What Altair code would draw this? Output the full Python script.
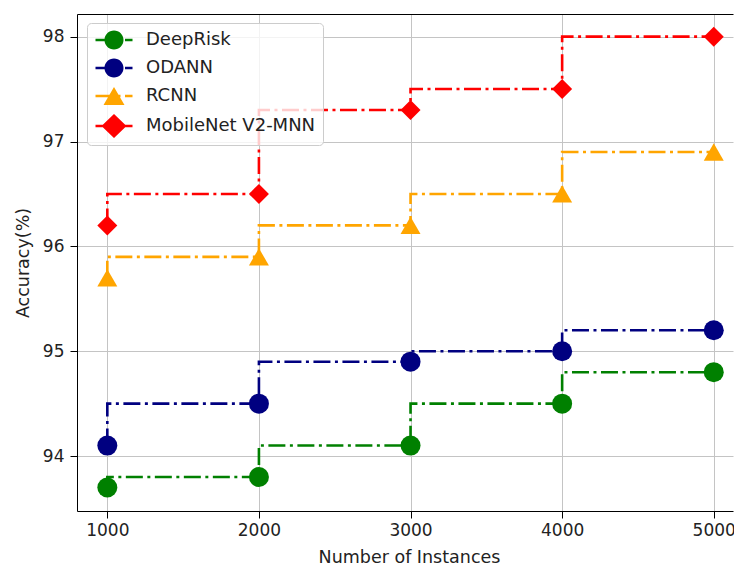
import altair as alt
import pandas as pd

# ---- data ----
instances = [1000, 2000, 3000, 4000, 5000]
series_names = ["DeepRisk", "ODANN", "RCNN", "MobileNet V2-MNN"]
deeprisk = [93.7, 93.8, 94.1, 94.5, 94.8]
odann = [94.1, 94.5, 94.9, 95.0, 95.2]
rcnn = [95.7, 95.9, 96.2, 96.5, 96.9]
mobilenet = [96.2, 96.5, 97.3, 97.5, 98.0]

colors = ["#008000", "#000080", "#FFA500", "#FF0000"]
plot_shapes = ["circle", "circle", "triangle-up", "diamond"]
plot_sizes = [400, 400, 441, 756]

# legend glyphs: marker + dash-dot line segment (unit = sqrt(size)/2)
_line = "M-1.85,-0.13H-0.1V0.13H-1.85Z M0.35,-0.13H0.65V0.13H0.35Z M1.1,-0.13H1.85V0.13H1.1Z "
legend_shapes = [
    _line + "M0.95,0A0.95,0.95 0 1,1 -0.95,0A0.95,0.95 0 1,1 0.95,0Z",
    _line + "M0.95,0A0.95,0.95 0 1,1 -0.95,0A0.95,0.95 0 1,1 0.95,0Z",
    _line + "M0,-0.91L1.05,0.91L-1.05,0.91Z",
    _line + "M0,-1.2L1.25,0L0,1.2L-1.25,0Z",
]

rows = []
for name, vals in zip(series_names, [deeprisk, odann, rcnn, mobilenet]):
    for i, (x, y) in enumerate(zip(instances, vals)):
        rows.append({"model": name, "n": x, "acc": y, "order": i})
df = pd.DataFrame(rows)

FONT = "DejaVu Sans"

x_scale = alt.Scale(domain=[800, 5127], nice=False, zero=False)
y_scale = alt.Scale(domain=[93.476, 98.216], nice=False, zero=False)
color_scale = alt.Scale(domain=series_names, range=colors)

base = alt.Chart(df)

lines = base.mark_line(
    interpolate="step-before", strokeWidth=2.6, strokeDash=[17, 4.5, 3, 4.5]
).encode(
    x=alt.X("n:Q", scale=x_scale,
            axis=alt.Axis(values=instances, format="d", title="Number of Instances",
                          grid=True, gridColor="#c4c4c4", gridWidth=1,
                          tickSize=7, tickColor="#000", domainColor="#000",
                          labelFont=FONT, labelFontSize=17, labelColor="#222",
                          labelPadding=4, titleFont=FONT, titleFontSize=17.5,
                          titleFontWeight="normal", titleColor="#222",
                          titleX=332, titleY=51, titleBaseline="alphabetic")),
    y=alt.Y("acc:Q", scale=y_scale,
            axis=alt.Axis(values=[94, 95, 96, 97, 98], format="d", title="Accuracy(%)",
                          grid=True, gridColor="#c4c4c4", gridWidth=1,
                          tickSize=7, tickColor="#000", domainColor="#000",
                          labelFont=FONT, labelFontSize=17, labelColor="#222",
                          labelPadding=6, titleFont=FONT, titleFontSize=17.5,
                          titleFontWeight="normal", titleColor="#222",
                          titlePadding=10)),
    color=alt.Color("model:N", scale=color_scale, legend=None),
    detail="model:N",
    order="order:Q",
)

points = base.mark_point(filled=True, opacity=1, strokeWidth=0).encode(
    x=alt.X("n:Q", scale=x_scale, axis=None),
    y=alt.Y("acc:Q", scale=y_scale),
    color=alt.Color("model:N", scale=color_scale, legend=None),
    shape=alt.Shape("model:N", scale=alt.Scale(domain=series_names, range=plot_shapes), legend=None),
    size=alt.Size("model:N", scale=alt.Scale(domain=series_names, range=plot_sizes), legend=None),
)

legend_layer = base.mark_point(filled=True, opacity=1).encode(
    x=alt.X("n:Q", scale=x_scale,
            axis=alt.Axis(orient="top", labels=False, ticks=False, grid=False,
                          title=None, domain=True, domainColor="#000")),
    y=alt.Y("acc:Q", scale=y_scale),
    color=alt.Color("model:N", scale=alt.Scale(domain=series_names, range=colors),
                    legend=alt.Legend(title=None)),
    shape=alt.Shape("model:N", scale=alt.Scale(domain=series_names, range=legend_shapes),
                    legend=alt.Legend(title=None)),
).transform_filter("false")

chart = alt.layer(lines, points, legend_layer).resolve_scale(
    shape="independent", color="independent", size="independent"
).resolve_axis(x="independent").properties(
    width=656, height=497,
    padding={"left": 77, "top": 14, "right": 1, "bottom": 56},
    autosize=alt.AutoSizeParams(type="none"),
    background="white",
).configure_view(strokeWidth=0).configure_legend(
    orient="none", legendX=10, legendY=9,
    labelFont=FONT, labelFontSize=18, labelColor="#222", labelLimit=400,
    padding=7, rowPadding=8, symbolSize=400, symbolStrokeWidth=0,
    symbolOffset=10, labelOffset=22,
    fillColor="rgba(255,255,255,0.8)", strokeColor="#cccccc", cornerRadius=4,
)

chart.save("out.html", embed_options={"renderer": "svg", "actions": False})
